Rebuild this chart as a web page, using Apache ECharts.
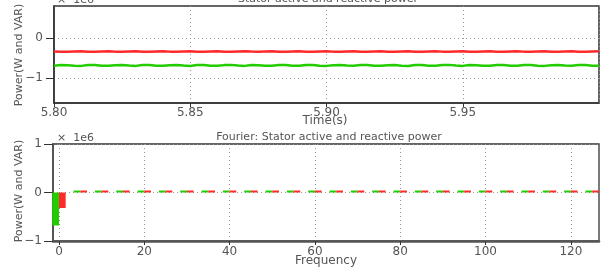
<!DOCTYPE html>
<html>
<head>
<meta charset="utf-8">
<script src="https://cdn.jsdelivr.net/npm/echarts@6/dist/echarts.min.js"></script>
<style>
html,body{margin:0;padding:0;background:#fff;}
#c{width:608px;height:270px;}
</style>
</head>
<body>
<div id="c"></div>
<script>
// ---- Time-domain data (values in 1e6 units) ----
const tStart = 5.80;
const tStep = 0.0025;
const activePower = [ // green
 -0.685,-0.668,-0.674,-0.688,-0.690,-0.670,-0.666,-0.684,-0.689,-0.672,
 -0.668,-0.683,-0.690,-0.667,-0.671,-0.687,-0.688,-0.673,-0.667,-0.682,
 -0.691,-0.669,-0.670,-0.686,-0.689,-0.671,-0.665,-0.683,-0.690,-0.668,
 -0.672,-0.688,-0.687,-0.670,-0.667,-0.684,-0.689,-0.666,-0.671,-0.686,
 -0.690,-0.672,-0.668,-0.682,-0.688,-0.669,-0.666,-0.685,-0.689,-0.673,
 -0.667,-0.684,-0.691,-0.668,-0.670,-0.686,-0.688,-0.671,-0.665,-0.683,
 -0.690,-0.669,-0.672,-0.687,-0.689,-0.670,-0.667,-0.684,-0.688,-0.668,
 -0.671,-0.686,-0.690,-0.672,-0.666,-0.683,-0.689,-0.669,-0.670,-0.685,
 -0.687
];
const reactivePower = [ // red
 -0.330,-0.336,-0.338,-0.327,-0.322,-0.334,-0.339,-0.329,-0.323,-0.333,
 -0.338,-0.330,-0.324,-0.335,-0.337,-0.328,-0.322,-0.333,-0.339,-0.331,
 -0.325,-0.334,-0.338,-0.327,-0.323,-0.336,-0.337,-0.329,-0.324,-0.332,
 -0.339,-0.330,-0.322,-0.335,-0.338,-0.328,-0.323,-0.334,-0.337,-0.331,
 -0.325,-0.333,-0.339,-0.327,-0.322,-0.335,-0.338,-0.329,-0.324,-0.334,
 -0.337,-0.330,-0.323,-0.336,-0.338,-0.328,-0.322,-0.333,-0.339,-0.331,
 -0.325,-0.334,-0.337,-0.327,-0.323,-0.335,-0.338,-0.330,-0.324,-0.333,
 -0.339,-0.329,-0.322,-0.336,-0.337,-0.328,-0.324,-0.334,-0.338,-0.331,
 -0.326
];
// ---- Fourier data (values in 1e6 units) ----
const frequencies = [0,5,10,15,20,25,30,35,40,45,50,55,60,65,70,75,80,85,90,95,100,105,110,115,120,125];
const fftActive   = [-0.68,0,0,0,0,0,0,0,0,0,0,0,0,0,0,0,0,0,0,0,0.03,0,0,0,0,0];
const fftReactive = [-0.32,0,0,0,0,0,0,0,0,0,0,0,0,0,0,0,0,0,0,0,0,0,0,0,0,0];
// ---- Ticks ----
const topYTicks = [-1, 0];
const botXTicks = [0,20,40,60,80,100,120];

const GREEN = '#22cc00';
const RED = '#ff2a2a';
const FONT = 'DejaVu Sans';
const TXT = '#555';

const timeSeriesA = activePower.map((v,i)=>[tStart + i*tStep, v]);
const timeSeriesR = reactivePower.map((v,i)=>[tStart + i*tStep, v]);
const fftA = frequencies.map((f,i)=>[f, fftActive[i]]);
const fftR = frequencies.map((f,i)=>[f, fftReactive[i]]);

const minus = s => String(s).replace('-', '\u2212');
const dotted = {color:'#999', width:1, type:[1,3]};

const chart = echarts.init(document.getElementById('c'), null, {renderer:'canvas'});
chart.setOption({
  animation:false,
  backgroundColor:'#fff',
  textStyle:{fontFamily:FONT},
  grid:[
    {left:54, right:9, top:6, height:97, show:true, borderColor:'#333', borderWidth:1.5, backgroundColor:'transparent'},
    {left:53, right:9, top:144, height:97, show:true, borderColor:'#333', borderWidth:1.3, backgroundColor:'transparent'}
  ],
  xAxis:[
    {gridIndex:0, type:'value', min:5.80, max:6.00, interval:0.05,
     axisLine:{show:true, onZero:false, lineStyle:{color:'#333', width:1.5}},
     axisTick:{show:true, inside:false, length:4, lineStyle:{color:'#333'}},
     axisLabel:{color:TXT, fontSize:12, fontFamily:FONT, margin:4, showMaxLabel:false, formatter:v=>v.toFixed(2)},
     splitLine:{show:true, lineStyle:dotted}},
    {gridIndex:1, type:'value', min:-1.4, max:126.6,
     axisLine:{show:true, onZero:false, lineStyle:{color:'#555', width:2.5}},
     axisTick:{show:true, inside:false, length:4, customValues:botXTicks, lineStyle:{color:'#333'}},
     axisLabel:{color:TXT, fontSize:12, fontFamily:FONT, margin:5, customValues:botXTicks},
     splitLine:{show:true, lineStyle:dotted}}
  ],
  yAxis:[
    {gridIndex:0, type:'value', min:-1.62, max:0.81,
     axisLine:{show:true, onZero:false, lineStyle:{color:'#333', width:1.5}},
     axisTick:{show:true, inside:false, length:8, customValues:topYTicks, lineStyle:{color:'#333'}},
     axisLabel:{color:TXT, fontSize:12, fontFamily:FONT, margin:11, customValues:topYTicks, formatter:v=>minus(v)},
     splitLine:{show:true, lineStyle:dotted}},
    {gridIndex:1, type:'value', min:-1, max:1, interval:1,
     axisLine:{show:true, onZero:false, lineStyle:{color:'#555', width:2}},
     axisTick:{show:true, inside:false, length:9, lineStyle:{color:'#333'}},
     axisLabel:{color:TXT, fontSize:12, fontFamily:FONT, margin:11, formatter:v=>minus(v)},
     splitLine:{show:true, lineStyle:dotted}}
  ],
  series:[
    {type:'line', xAxisIndex:0, yAxisIndex:0, data:timeSeriesR, showSymbol:false, symbol:'none',
     lineStyle:{color:RED, width:2.5}, itemStyle:{color:RED}},
    {type:'line', xAxisIndex:0, yAxisIndex:0, data:timeSeriesA, showSymbol:false, symbol:'none',
     lineStyle:{color:GREEN, width:2.5}, itemStyle:{color:GREEN}},
    {type:'bar', xAxisIndex:1, yAxisIndex:1, data:fftA, barWidth:6.7, barGap:'0%', barMinHeight:2,
     itemStyle:{color:GREEN}},
    {type:'bar', xAxisIndex:1, yAxisIndex:1, data:fftR, barWidth:6.7, barGap:'0%', barMinHeight:2,
     itemStyle:{color:RED}}
  ],
  graphic:[
    {type:'text', x:328, y:-1, style:{text:'Stator active and reactive power', font:'11px "DejaVu Sans"', fill:TXT, align:'center', verticalAlign:'middle', textAlign:'center', textVerticalAlign:'middle'}},
    {type:'text', x:57, y:0, style:{text:'\u00d7  1e6', font:'11px "DejaVu Sans"', fill:TXT, align:'left', verticalAlign:'middle', textAlign:'left', textVerticalAlign:'middle'}},
    {type:'text', x:325, y:121, style:{text:'Time(s)', font:'12px "DejaVu Sans"', fill:TXT, align:'center', verticalAlign:'middle', textAlign:'center', textVerticalAlign:'middle'}},
    {type:'text', x:19, y:55, rotation:Math.PI/2, style:{text:'Power(W and VAR)', font:'11px "DejaVu Sans"', fill:TXT, align:'center', verticalAlign:'middle', textAlign:'center', textVerticalAlign:'middle'}},
    {type:'text', x:329, y:137, style:{text:'Fourier: Stator active and reactive power', font:'11px "DejaVu Sans"', fill:TXT, align:'center', verticalAlign:'middle', textAlign:'center', textVerticalAlign:'middle'}},
    {type:'text', x:57, y:138, style:{text:'\u00d7  1e6', font:'11px "DejaVu Sans"', fill:TXT, align:'left', verticalAlign:'middle', textAlign:'left', textVerticalAlign:'middle'}},
    {type:'text', x:326, y:261, style:{text:'Frequency', font:'12px "DejaVu Sans"', fill:TXT, align:'center', verticalAlign:'middle', textAlign:'center', textVerticalAlign:'middle'}},
    {type:'text', x:19, y:191, rotation:Math.PI/2, style:{text:'Power(W and VAR)', font:'11px "DejaVu Sans"', fill:TXT, align:'center', verticalAlign:'middle', textAlign:'center', textVerticalAlign:'middle'}}
  ]
});
</script>
</body>
</html>
